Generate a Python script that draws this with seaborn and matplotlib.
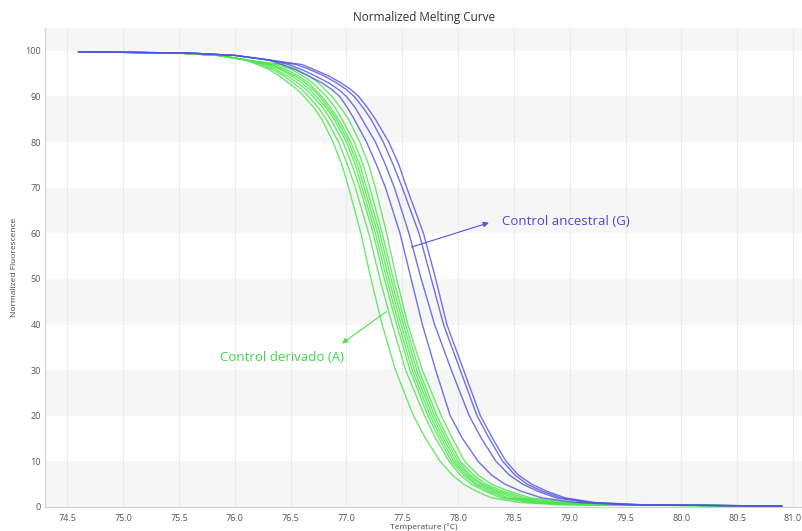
import numpy as np
import pandas as pd
import matplotlib
matplotlib.use("Agg")
import matplotlib.pyplot as plt
from matplotlib.ticker import MultipleLocator, FormatStrFormatter
import seaborn as sns

# Fluorescence levels (shared) and the temperature at which each curve reaches them
levels = [99.8, 99.5, 99, 98, 97, 96, 94.5, 93, 91.5, 90, 87.5, 85, 80, 75, 70,
          60, 50, 40, 30, 20, 15, 10, 7, 5, 3.5, 2, 1, 0.5, 0.2]

blue_1 = [74.6, 75.6, 76.0, 76.3, 76.42, 76.53, 76.66, 76.78, 76.87, 76.94, 77.01, 77.07, 77.18, 77.27, 77.35,
          77.48, 77.58, 77.68, 77.80, 77.93, 78.04, 78.18, 78.30, 78.42, 78.56, 78.75, 79.05, 79.5, 80.9]
blue_2 = [74.6, 75.6, 76.0, 76.3, 76.48, 76.59, 76.72, 76.84, 76.93, 77.00, 77.08, 77.14, 77.26, 77.35, 77.43,
          77.56, 77.67, 77.79, 77.94, 78.10, 78.21, 78.34, 78.46, 78.58, 78.71, 78.88, 79.15, 79.55, 80.9]
blue_3 = [74.6, 75.6, 76.0, 76.3, 76.55, 76.66, 76.80, 76.91, 77.00, 77.07, 77.15, 77.22, 77.33, 77.42, 77.50,
          77.65, 77.76, 77.87, 78.02, 78.17, 78.28, 78.40, 78.51, 78.62, 78.75, 78.92, 79.18, 79.6, 80.9]
blue_4 = [74.6, 75.6, 76.0, 76.3, 76.60, 76.70, 76.84, 76.95, 77.04, 77.11, 77.19, 77.26, 77.38, 77.47, 77.54,
          77.69, 77.80, 77.90, 78.05, 78.20, 78.31, 78.43, 78.54, 78.66, 78.79, 78.96, 79.22, 79.65, 80.9]

green_1 = [74.6, 75.5, 75.85, 76.1, 76.20, 76.30, 76.40, 76.48, 76.56, 76.62, 76.71, 76.78, 76.88, 76.96, 77.02,
           77.13, 77.22, 77.32, 77.44, 77.60, 77.71, 77.84, 77.95, 78.05, 78.16, 78.30, 78.55, 78.90, 80.9]
green_2 = [74.6, 75.5, 75.85, 76.1, 76.23, 76.33, 76.44, 76.52, 76.60, 76.66, 76.75, 76.82, 76.93, 77.01, 77.08,
           77.20, 77.30, 77.41, 77.53, 77.70, 77.80, 77.92, 78.02, 78.12, 78.24, 78.38, 78.65, 79.00, 80.9]
green_3 = [74.6, 75.5, 75.85, 76.1, 76.26, 76.36, 76.47, 76.56, 76.64, 76.70, 76.79, 76.86, 76.97, 77.05, 77.12,
           77.24, 77.34, 77.45, 77.57, 77.73, 77.83, 77.94, 78.05, 78.15, 78.27, 78.42, 78.70, 79.10, 80.9]
green_4 = [74.6, 75.5, 75.85, 76.1, 76.29, 76.40, 76.51, 76.60, 76.67, 76.73, 76.82, 76.89, 77.00, 77.08, 77.14,
           77.26, 77.36, 77.47, 77.59, 77.75, 77.85, 77.96, 78.07, 78.17, 78.30, 78.45, 78.75, 79.20, 80.9]
green_5 = [74.6, 75.5, 75.85, 76.1, 76.31, 76.42, 76.54, 76.63, 76.70, 76.76, 76.84, 76.91, 77.02, 77.10, 77.16,
           77.28, 77.38, 77.49, 77.61, 77.77, 77.87, 77.98, 78.09, 78.20, 78.33, 78.50, 78.80, 79.30, 80.9]
green_6 = [74.6, 75.5, 75.85, 76.1, 76.33, 76.45, 76.57, 76.66, 76.72, 76.78, 76.86, 76.93, 77.04, 77.12, 77.18,
           77.30, 77.40, 77.51, 77.63, 77.79, 77.89, 78.00, 78.11, 78.22, 78.36, 78.55, 78.85, 79.40, 80.9]
green_7 = [74.6, 75.5, 75.85, 76.1, 76.37, 76.50, 76.61, 76.70, 76.76, 76.82, 76.90, 76.96, 77.07, 77.15, 77.21,
           77.32, 77.42, 77.53, 77.65, 77.81, 77.91, 78.02, 78.14, 78.25, 78.40, 78.60, 78.90, 79.50, 80.9]
green_8 = [74.6, 75.5, 75.85, 76.1, 76.42, 76.55, 76.66, 76.75, 76.81, 76.87, 76.95, 77.02, 77.12, 77.20, 77.26,
           77.36, 77.45, 77.55, 77.68, 77.85, 77.95, 78.06, 78.18, 78.30, 78.45, 78.65, 79.00, 79.60, 80.9]

blue_curves = {"G1": blue_1, "G2": blue_2, "G3": blue_3, "G4": blue_4}
green_curves = {"A1": green_1, "A2": green_2, "A3": green_3, "A4": green_4,
                "A5": green_5, "A6": green_6, "A7": green_7, "A8": green_8}

x_ticks = [74.5, 75.0, 75.5, 76.0, 76.5, 77.0, 77.5, 78.0, 78.5, 79.0, 79.5, 80.0, 80.5, 81.0]
y_ticks = [0, 10, 20, 30, 40, 50, 60, 70, 80, 90, 100]

title = "Normalized Melting Curve"
x_label = "Temperature (°C)"
y_label = "Normalized Fluorescence"
label_G = "Control ancestral (G)"
label_A = "Control derivado (A)"

BLUE = "#5252e6"
GREEN = "#4be64b"

rows = []
for name, temps in list(green_curves.items()) + list(blue_curves.items()):
    for t, f in zip(temps, levels):
        rows.append({"curve": name, "T": t, "F": f})
df = pd.DataFrame(rows)

palette = {k: GREEN for k in green_curves}
palette.update({k: BLUE for k in blue_curves})

sns.set_theme(style="white")
plt.rcParams["font.family"] = ["Open Sans", "DejaVu Sans"]

fig = plt.figure(figsize=(8.03, 5.31), dpi=100)
ax = fig.add_axes([45 / 803, 24 / 531, 758 / 803, 479 / 531])

ylim = (0, 105)
xlim = (74.3, 81.09)

# alternating horizontal bands
for lo in y_ticks[::2]:
    ax.axhspan(lo, min(lo + 10, ylim[1]), color="#f6f6f6", zorder=0, lw=0)
for xt in x_ticks:
    ax.axvline(xt, color="#ececec", lw=0.8, zorder=0.5)

sns.lineplot(data=df, x="T", y="F", hue="curve", palette=palette, estimator=None,
             sort=True, legend=False, lw=1.0, alpha=0.82, ax=ax, zorder=3)

ax.set_xlim(*xlim)
ax.set_ylim(*ylim)
ax.set_xticks(x_ticks)
ax.set_yticks(y_ticks)
ax.xaxis.set_major_formatter(FormatStrFormatter("%.1f"))
ax.xaxis.set_minor_locator(MultipleLocator(0.1))
ax.yaxis.set_minor_locator(MultipleLocator(2))
ax.tick_params(axis="both", which="both", direction="in", colors="#c8c8c8",
               labelcolor="#555555", labelsize=6.5)
ax.tick_params(axis="both", which="major", length=5, width=0.8, pad=3)
ax.tick_params(axis="x", which="major", pad=5)
ax.tick_params(axis="both", which="minor", length=4, width=0.6)
for s in ["top", "right"]:
    ax.spines[s].set_visible(False)
for s in ["left", "bottom"]:
    ax.spines[s].set_color("#d0d0d0")
    ax.spines[s].set_linewidth(0.8)

ax.set_xlabel(x_label, fontsize=6, color="#444444", labelpad=0)
ax.set_ylabel(y_label, fontsize=6, color="#444444", labelpad=5)
ax.set_title(title, fontsize=8.5, color="#333333", pad=5)

ax.annotate("", xy=(78.30, 62.5), xytext=(77.56, 56.8),
            arrowprops=dict(arrowstyle="-|>", color=BLUE, lw=0.8, mutation_scale=8), zorder=5)
ax.text(78.39, 62.5, label_G, color="#4a4ad0", fontsize=9.5, va="center", ha="left", zorder=5)
ax.annotate("", xy=(76.94, 35.5), xytext=(77.38, 43.2),
            arrowprops=dict(arrowstyle="-|>", color=GREEN, lw=0.8, mutation_scale=8), zorder=5)
ax.text(76.42, 32.7, label_A, color="#3ed84a", fontsize=9.5, va="center", ha="center", zorder=5)

fig.savefig("out.png", dpi=100)
